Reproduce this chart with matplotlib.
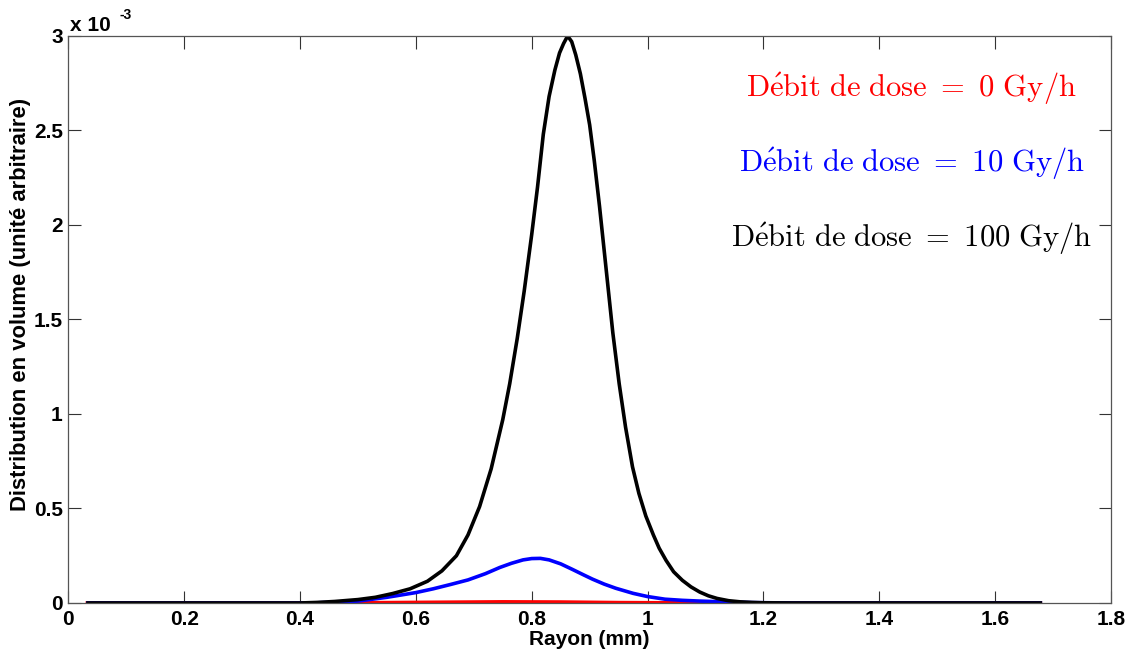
import matplotlib.pyplot as plt
import numpy as np
from matplotlib.ticker import FuncFormatter

# values, y in units of 1e-3
x_black = [0.034, 0.40, 0.43, 0.46, 0.50, 0.53, 0.56, 0.59, 0.62, 0.645, 0.67, 0.69,
           0.71, 0.73, 0.75, 0.762, 0.775, 0.787, 0.80, 0.81, 0.82, 0.83, 0.84, 0.848,
           0.855, 0.862, 0.869, 0.876, 0.884, 0.892, 0.90, 0.908, 0.917, 0.928, 0.94,
           0.951, 0.962, 0.974, 0.985, 0.997, 1.01, 1.02, 1.032, 1.045, 1.06, 1.075,
           1.09, 1.105, 1.12, 1.14, 1.16, 1.18, 1.20, 1.25, 1.678]
y_black = [0.0, 0.0, 0.003, 0.008, 0.018, 0.03, 0.05, 0.075, 0.115, 0.17, 0.25, 0.36,
           0.51, 0.71, 0.97, 1.16, 1.40, 1.65, 1.95, 2.20, 2.48, 2.68, 2.82, 2.91,
           2.96, 3.0, 2.97, 2.90, 2.80, 2.67, 2.53, 2.34, 2.10, 1.78, 1.43, 1.16,
           0.93, 0.72, 0.58, 0.46, 0.36, 0.29, 0.225, 0.165, 0.12, 0.085, 0.058, 0.038,
           0.024, 0.012, 0.006, 0.003, 0.001, 0.0, 0.0]

x_blue = [0.034, 0.42, 0.46, 0.50, 0.55, 0.60, 0.63, 0.66, 0.69, 0.72, 0.745, 0.765,
          0.785, 0.80, 0.815, 0.83, 0.85, 0.87, 0.89, 0.905, 0.925, 0.945, 0.975, 1.00,
          1.03, 1.06, 1.09, 1.12, 1.145, 1.18, 1.25, 1.678]
y_blue = [0.0, 0.0, 0.004, 0.01, 0.03, 0.055, 0.075, 0.098, 0.122, 0.155, 0.188, 0.21,
          0.228, 0.235, 0.236, 0.228, 0.207, 0.178, 0.148, 0.126, 0.10, 0.078, 0.051,
          0.034, 0.020, 0.014, 0.010, 0.007, 0.005, 0.002, 0.0, 0.0]

x_red = [0.033, 0.45, 0.55, 0.65, 0.75, 0.85, 0.95, 1.05, 1.15, 1.678]
y_red = [0.0, 0.0005, 0.002, 0.004, 0.006, 0.005, 0.002, 0.0007, 0.0001, 0.0]

labels = ['Débit de dose = 0 Gy/h', 'Débit de dose = 10 Gy/h', 'Débit de dose = 100 Gy/h']
xticks = [0, 0.2, 0.4, 0.6, 0.8, 1, 1.2, 1.4, 1.6, 1.8]
yticks = [0, 0.5e-3, 1e-3, 1.5e-3, 2e-3, 2.5e-3, 3e-3]

plt.rcParams['font.family'] = ['Liberation Sans', 'DejaVu Sans']
plt.rcParams['mathtext.fontset'] = 'cm'
fs = 15

fig = plt.figure(figsize=(11.31, 6.53), dpi=100)
ax = fig.add_axes([0.0604, 0.0766, 0.9219, 0.8683])

ax.plot(x_red, np.array(y_red) * 1e-3, color='#ff0000', lw=2.6)
ax.plot(x_blue, np.array(y_blue) * 1e-3, color='#0000ff', lw=2.6)
ax.plot(x_black, np.array(y_black) * 1e-3, color='black', lw=2.6)

ax.set_xlim(0, 1.8)
ax.set_ylim(0, 3e-3)
ax.set_xticks(xticks)
ax.set_yticks(yticks)
ax.xaxis.set_major_formatter(FuncFormatter(lambda v, p: '%g' % v))
ax.yaxis.set_major_formatter(FuncFormatter(lambda v, p: '%g' % round(v * 1e3, 3)))
ax.tick_params(direction='in', length=9, width=0.8, color='#333333',
               top=True, right=True, labelsize=fs)
ax.tick_params(axis='x', pad=5)
ax.tick_params(axis='y', pad=4)
for lab in ax.get_xticklabels() + ax.get_yticklabels():
    lab.set_fontweight('bold')
for s in ax.spines.values():
    s.set_color('#555555')
    s.set_linewidth(0.9)

ax.set_xlabel('Rayon (mm)', fontsize=fs, fontweight='bold', labelpad=1)
ax.set_ylabel('Distribution en volume (unité arbitraire)', fontsize=15.8,
              fontweight='bold', va='center')
ax.yaxis.set_label_coords(-0.046, 0.526)

# multiplier like MATLAB
ax.annotate('x 10', xy=(0, 1), xycoords='axes fraction', xytext=(1, 1),
            textcoords='offset points', fontsize=fs, fontweight='bold',
            ha='left', va='bottom')
ax.annotate('-3', xy=(0, 1), xycoords='axes fraction', xytext=(37, 10),
            textcoords='offset points', fontsize=10, fontweight='bold',
            ha='left', va='bottom')

colors = ['#ff0000', '#0000ff', 'black']
ypos = [0.866, 0.751, 0.636]
for lab, c, yy in zip(labels, colors, ypos):
    tex = r'$\mathrm{' + lab.replace('é', r'\acute{e}').replace(' ', r'\ ') + '}$'
    fig.text(0.806, yy, tex, color=c, fontsize=22, ha='center', va='center')

fig.savefig('out.png', dpi=100)
